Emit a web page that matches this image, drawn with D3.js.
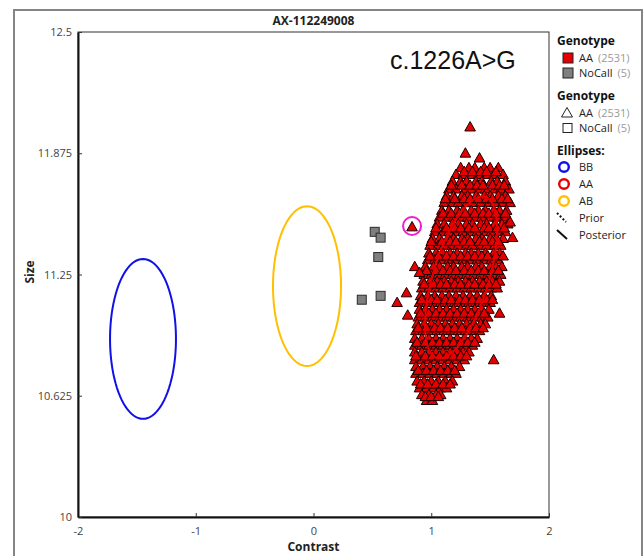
<!DOCTYPE html>
<html>
<head>
<meta charset="utf-8">
<script src="https://cdn.jsdelivr.net/npm/d3@7"></script>
<style>
  body { margin: 0; background: #fff; }
  text { font-family: "Segoe UI", "Open Sans", sans-serif; }
</style>
</head>
<body>
<script>
// AX-112249008 cluster plot

var xTicks = [-2, -1, 0, 1, 2];
var yTicks = [10, 10.625, 11.25, 11.875, 12.5];

var genotypes = ["AA", "NoCall"];
var genotypeCounts = [2531, 5];
var ellipseNames = ["BB", "AA", "AB"];

// NoCall samples (contrast, size)
var noCallPoints = [[0.52, 11.47], [0.57, 11.44], [0.55, 11.34], [0.41, 11.12], [0.57, 11.14]];

// AA samples: [size, [contrast, ...]]
var aaRows = [
  [11.80, [1.25, 1.32, 1.37, 1.45, 1.50, 1.57]],
  [11.765, [1.21, 1.27, 1.35, 1.40, 1.48, 1.53, 1.61]],
  [11.73, [1.18, 1.25, 1.30, 1.38, 1.43, 1.51, 1.56, 1.63]],
  [11.69, [1.15, 1.21, 1.29, 1.34, 1.41, 1.46, 1.54, 1.59, 1.66]],
  [11.655, [1.13, 1.19, 1.26, 1.31, 1.38, 1.45, 1.50, 1.57, 1.63]],
  [11.62, [1.11, 1.18, 1.23, 1.30, 1.35, 1.42, 1.49, 1.54, 1.61, 1.67]],
  [11.58, [1.09, 1.15, 1.22, 1.27, 1.34, 1.40, 1.46, 1.53, 1.58, 1.64]],
  [11.545, [1.07, 1.14, 1.19, 1.26, 1.31, 1.38, 1.43, 1.50, 1.56, 1.62]],
  [11.51, [1.05, 1.11, 1.18, 1.23, 1.30, 1.35, 1.42, 1.47, 1.54, 1.60, 1.65]],
  [11.47, [1.03, 1.10, 1.15, 1.22, 1.27, 1.34, 1.39, 1.46, 1.51, 1.58, 1.63]],
  [11.435, [1.01, 1.07, 1.14, 1.19, 1.26, 1.31, 1.38, 1.43, 1.50, 1.55, 1.61]],
  [11.40, [0.99, 1.06, 1.11, 1.18, 1.23, 1.30, 1.35, 1.42, 1.47, 1.54, 1.59]],
  [11.36, [0.98, 1.04, 1.10, 1.16, 1.22, 1.29, 1.34, 1.40, 1.46, 1.53, 1.58]],
  [11.325, [0.97, 1.03, 1.09, 1.15, 1.21, 1.27, 1.33, 1.39, 1.45, 1.51, 1.57]],
  [11.29, [0.95, 1.02, 1.07, 1.14, 1.19, 1.26, 1.31, 1.38, 1.43, 1.50, 1.55, 1.60]],
  [11.25, [0.94, 1.00, 1.06, 1.12, 1.18, 1.24, 1.30, 1.36, 1.42, 1.48, 1.54, 1.59]],
  [11.215, [0.93, 0.99, 1.05, 1.11, 1.17, 1.23, 1.29, 1.35, 1.41, 1.47, 1.52, 1.58]],
  [11.18, [0.92, 0.98, 1.04, 1.10, 1.16, 1.22, 1.28, 1.34, 1.40, 1.46, 1.51, 1.56]],
  [11.14, [0.91, 0.97, 1.03, 1.09, 1.15, 1.21, 1.27, 1.33, 1.39, 1.45, 1.51]],
  [11.105, [0.90, 0.96, 1.02, 1.08, 1.14, 1.20, 1.26, 1.32, 1.38, 1.44, 1.50]],
  [11.07, [0.90, 0.95, 1.01, 1.07, 1.13, 1.19, 1.25, 1.31, 1.37, 1.43, 1.49]],
  [11.03, [0.89, 0.95, 1.01, 1.07, 1.13, 1.19, 1.25, 1.31, 1.37, 1.43, 1.48]],
  [10.995, [0.88, 0.94, 1.00, 1.06, 1.12, 1.18, 1.24, 1.30, 1.36, 1.42, 1.46]],
  [10.96, [0.87, 0.93, 0.99, 1.05, 1.11, 1.17, 1.23, 1.29, 1.35, 1.41]],
  [10.92, [0.86, 0.92, 0.98, 1.04, 1.10, 1.16, 1.22, 1.28, 1.34, 1.39]],
  [10.885, [0.86, 0.92, 0.98, 1.04, 1.10, 1.16, 1.22, 1.28, 1.35]],
  [10.85, [0.86, 0.92, 0.98, 1.04, 1.10, 1.16, 1.22, 1.27, 1.32]],
  [10.81, [0.86, 0.92, 0.98, 1.04, 1.10, 1.16, 1.22, 1.28]],
  [10.775, [0.87, 0.93, 0.99, 1.05, 1.11, 1.17, 1.24]],
  [10.74, [0.87, 0.93, 0.99, 1.05, 1.11, 1.17, 1.21]],
  [10.70, [0.88, 0.94, 1.00, 1.06, 1.12, 1.18]],
  [10.665, [0.90, 0.96, 1.02, 1.08, 1.13]],
  [10.63, [0.92, 0.98, 1.04, 1.08]],
  [10.60, [0.96, 1.01]]
];

// more AA samples lying between the rows above
var aaRowsB = [
  [11.78, [1.28, 1.35, 1.42, 1.47, 1.55]],
  [11.71, [1.17, 1.26, 1.33, 1.39, 1.44, 1.52, 1.58, 1.62]],
  [11.64, [1.12, 1.20, 1.28, 1.33, 1.40, 1.47, 1.52, 1.60, 1.65]],
  [11.565, [1.10, 1.17, 1.24, 1.29, 1.37, 1.44, 1.49, 1.55, 1.63]],
  [11.49, [1.04, 1.13, 1.20, 1.25, 1.32, 1.37, 1.45, 1.49, 1.56, 1.62]],
  [11.42, [1.00, 1.09, 1.16, 1.21, 1.28, 1.33, 1.41, 1.45, 1.52, 1.57]],
  [11.345, [0.99, 1.06, 1.13, 1.19, 1.25, 1.31, 1.37, 1.43, 1.48, 1.55, 1.61]],
  [11.27, [0.96, 1.04, 1.10, 1.16, 1.21, 1.28, 1.34, 1.40, 1.45, 1.52, 1.57]],
  [11.20, [0.94, 1.02, 1.08, 1.13, 1.20, 1.25, 1.32, 1.37, 1.44, 1.49, 1.55]],
  [11.12, [0.92, 1.00, 1.05, 1.12, 1.17, 1.24, 1.29, 1.35, 1.41, 1.47, 1.52]],
  [11.05, [0.91, 0.98, 1.04, 1.10, 1.16, 1.22, 1.28, 1.34, 1.40, 1.45]],
  [10.975, [0.89, 0.96, 1.03, 1.08, 1.14, 1.20, 1.26, 1.33, 1.38, 1.44]],
  [10.90, [0.88, 0.95, 1.01, 1.07, 1.13, 1.19, 1.25, 1.31, 1.37]],
  [10.83, [0.87, 0.95, 1.01, 1.07, 1.13, 1.19, 1.25, 1.30]],
  [10.755, [0.89, 0.96, 1.02, 1.08, 1.14, 1.20]],
  [10.685, [0.91, 0.97, 1.04, 1.10, 1.16]],
  [10.62, [0.95, 1.00, 1.06]]
];

// AA samples lying off the main cloud (contrast, size)
var aaOutliers = [
  [1.33, 12.01], [1.29, 11.875], [1.41, 11.85], [1.67, 11.52], [1.69, 11.44],
  [0.86, 11.29], [0.90, 11.26], [0.79, 11.155], [0.71, 11.105], [0.80, 11.04],
  [1.58, 11.05], [1.53, 10.81]
];
var flaggedPoint = [0.837, 11.495];

// cluster ellipses: centre and the two half-axis vectors, in data units
var ellipseCentres = [[-1.448, 10.918], [1.253, 11.235], [-0.055, 11.19]];
var ellipseMajor = [[0, 0.412], [0.204, 0.415], [0, 0.412]];
var ellipseMinor = [[0.28, 0], [0.228, -0.041], [0.289, 0]];

var ellipseColors = ["#1010e8", "#e80000", "#ffc000"];
var aaFill = "#e60000";
var noCallFill = "#7f7f7f";

var W = 644, H = 556;
var plot = {left: 78, right: 549, top: 32, bottom: 517};

var svg = d3.select("body").append("svg")
    .attr("width", W)
    .attr("height", H);

svg.append("rect").attr("width", W).attr("height", H).attr("fill", "#fff");

// outer frame
svg.append("rect")
    .attr("x", 14).attr("y", 10)
    .attr("width", 628).attr("height", 570)
    .attr("fill", "none")
    .attr("stroke", "#858585")
    .attr("stroke-width", 2);

var x = d3.scaleLinear().domain([-2, 2]).range([plot.left, plot.right]);
var y = d3.scaleLinear().domain([10, 12.5]).range([plot.bottom, plot.top]);

// thin box on top / right
svg.append("rect")
    .attr("x", plot.left).attr("y", plot.top)
    .attr("width", plot.right - plot.left)
    .attr("height", plot.bottom - plot.top)
    .attr("fill", "none")
    .attr("stroke", "#333")
    .attr("stroke-width", 1);

var xAxis = d3.axisBottom(x).tickValues(xTicks).tickSizeInner(-4).tickSizeOuter(0).tickPadding(10)
    .tickFormat(function(d) { return String(d); });
var yAxis = d3.axisLeft(y).tickValues(yTicks).tickSizeInner(-4).tickSizeOuter(0).tickPadding(6)
    .tickFormat(function(d) { return String(d); });

var gx = svg.append("g")
    .attr("transform", "translate(0," + plot.bottom + ")")
    .call(xAxis);
var gy = svg.append("g")
    .attr("transform", "translate(" + plot.left + ",0)")
    .call(yAxis);

[gx, gy].forEach(function(g) {
  g.select(".domain").attr("stroke", "#111").attr("stroke-width", 2);
  g.selectAll(".tick line").attr("stroke", "#333");
  g.selectAll(".tick text")
      .attr("fill", "#444")
      .style("font-size", "11px")
      .style("font-family", "'Segoe UI', 'Open Sans', sans-serif");
});

// titles
svg.append("text")
    .attr("x", (plot.left + plot.right) / 2).attr("y", 25)
    .attr("text-anchor", "middle")
    .style("font-size", "12px").style("font-weight", "bold")
    .attr("fill", "#222")
    .text("AX-112249008");

svg.append("text")
    .attr("x", (plot.left + plot.right) / 2).attr("y", 551)
    .attr("text-anchor", "middle")
    .style("font-size", "12px").style("font-weight", "bold")
    .attr("fill", "#222")
    .text("Contrast");

svg.append("text")
    .attr("transform", "translate(34," + 272 + ") rotate(-90)")
    .attr("text-anchor", "middle")
    .style("font-size", "12px").style("font-weight", "bold")
    .attr("fill", "#222")
    .text("Size");

svg.append("text")
    .attr("x", 390).attr("y", 69)
    .style("font-size", "25px")
    .style("font-family", "'Liberation Sans', Arial, sans-serif")
    .attr("fill", "#111")
    .text("c.1226A>G");

// points
var aaPoints = [];
aaRows.concat(aaRowsB).forEach(function(r) {
  r[1].forEach(function(c) { aaPoints.push([c, r[0]]); });
});
aaPoints = aaPoints.concat(aaOutliers);
aaPoints.push(flaggedPoint);

var triPath = "M0,-5.5L5.3,3.9L-5.3,3.9Z";

var pts = svg.append("g");

pts.selectAll("rect.nc")
    .data(noCallPoints)
    .enter().append("rect")
    .attr("class", "nc")
    .attr("x", function(d) { return x(d[0]) - 4.5; })
    .attr("y", function(d) { return y(d[1]) - 4.5; })
    .attr("width", 9).attr("height", 9)
    .attr("fill", noCallFill)
    .attr("stroke", "#2a2a2a")
    .attr("stroke-width", 1);

pts.selectAll("path.aa")
    .data(aaPoints)
    .enter().append("path")
    .attr("class", "aa")
    .attr("d", triPath)
    .attr("transform", function(d) { return "translate(" + x(d[0]) + "," + y(d[1]) + ")"; })
    .attr("fill", aaFill)
    .attr("stroke", "#1a0000")
    .attr("stroke-width", 1);

// flagged sample ring
svg.append("circle")
    .attr("cx", x(flaggedPoint[0])).attr("cy", y(flaggedPoint[1]) - 1)
    .attr("r", 9)
    .attr("fill", "none")
    .attr("stroke", "#ea1fd0")
    .attr("stroke-width", 2);

// ellipses
var line = d3.line();
ellipseCentres.forEach(function(c, i) {
  var pathPts = d3.range(0, 361, 4).map(function(deg) {
    var t = deg * Math.PI / 180;
    var cx = c[0] + ellipseMajor[i][0] * Math.cos(t) + ellipseMinor[i][0] * Math.sin(t);
    var cy = c[1] + ellipseMajor[i][1] * Math.cos(t) + ellipseMinor[i][1] * Math.sin(t);
    return [x(cx), y(cy)];
  });
  svg.append("path")
      .attr("d", line(pathPts) + "Z")
      .attr("fill", "none")
      .attr("stroke", ellipseColors[i])
      .attr("stroke-width", 2);
});

// legend
var lg = svg.append("g");
var lx = 557;

function heading(txt, yy) {
  lg.append("text").attr("x", lx).attr("y", yy)
      .style("font-size", "12px").style("font-weight", "bold")
      .attr("fill", "#111").text(txt);
}
function label(name, count, yy) {
  var t = lg.append("text").attr("x", 579).attr("y", yy)
      .style("font-size", "11px").attr("fill", "#222").text(name);
  if (count !== null) {
    var w = t.node().getComputedTextLength();
    lg.append("text").attr("x", 579 + w + 5).attr("y", yy)
        .style("font-size", "11px").attr("fill", "#9a9a9a").text("(" + count + ")");
  }
}

heading("Genotype", 45);
genotypes.forEach(function(g, i) {
  var cy = 58 + i * 15;
  lg.append("rect").attr("x", 563).attr("y", cy - 5).attr("width", 10).attr("height", 10)
      .attr("fill", i === 0 ? aaFill : noCallFill).attr("stroke", "#222").attr("stroke-width", 1);
  label(g, genotypeCounts[i], cy + 4);
});

heading("Genotype", 100);
genotypes.forEach(function(g, i) {
  var cy = 113 + i * 15;
  if (i === 0) {
    lg.append("path").attr("d", "M0,-5.5L5.5,4L-5.5,4Z")
        .attr("transform", "translate(567," + cy + ")")
        .attr("fill", "none").attr("stroke", "#222").attr("stroke-width", 1);
  } else {
    lg.append("rect").attr("x", 563).attr("y", cy - 4.5).attr("width", 9).attr("height", 9)
        .attr("fill", "none").attr("stroke", "#222").attr("stroke-width", 1);
  }
  label(g, genotypeCounts[i], cy + 4);
});

heading("Ellipses:", 155);
ellipseNames.forEach(function(n, i) {
  var cy = 167 + i * 17;
  lg.append("circle").attr("cx", 564).attr("cy", cy).attr("r", 4.8)
      .attr("fill", "none").attr("stroke", ellipseColors[i]).attr("stroke-width", 2.4);
  label(n, null, cy + 4);
});

lg.append("line").attr("x1", 557).attr("y1", 213).attr("x2", 566).attr("y2", 222)
    .attr("stroke", "#111").attr("stroke-width", 2).attr("stroke-dasharray", "2,2");
label("Prior", null, 222);
lg.append("line").attr("x1", 557).attr("y1", 230).attr("x2", 567).attr("y2", 239)
    .attr("stroke", "#111").attr("stroke-width", 2);
label("Posterior", null, 239);
</script>
</body>
</html>
